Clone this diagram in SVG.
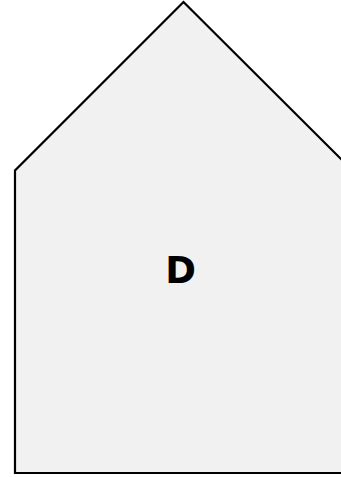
<svg xmlns="http://www.w3.org/2000/svg" width="341" height="477" viewBox="0 0 341 477">
<style>
.shape{fill:#f1f1f1;stroke:#000;stroke-width:2.2}
.lbl{font-family:"DejaVu Sans",sans-serif;font-weight:bold;font-size:37px;fill:#000}
</style>
<rect width="341" height="477" fill="#fff"/>
<g id="D">
<polygon class="shape" points="183.5,2 352.5,170.5 352.5,473 15,473 15,170.5"/>
<text class="lbl" x="180.5" y="283" text-anchor="middle">D</text>
</g>
</svg>
